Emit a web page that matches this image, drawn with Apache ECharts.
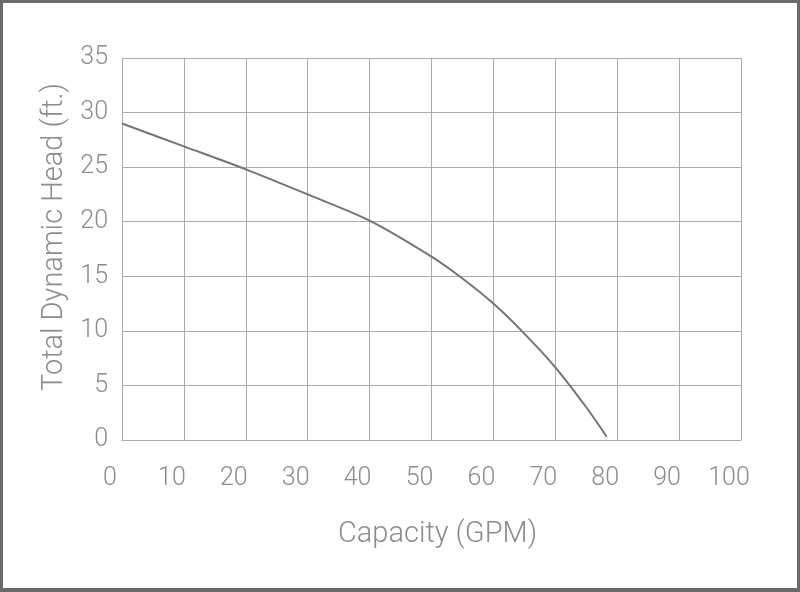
<!DOCTYPE html>
<html lang="en">
<head>
    <meta charset="UTF-8">
    <title>Pump curve</title>
    <script src="https://cdn.jsdelivr.net/npm/echarts@6/dist/echarts.min.js"></script>
    <style>
        html, body { margin: 0; padding: 0; background: #fff; }
        #container { width: 800px; height: 592px; position: absolute; left: 0; top: 0; }
        /* dark frame round the picture */
        #frame {
            position: absolute; left: 0; top: 0;
            width: 800px; height: 592px;
            box-sizing: border-box;
            border: 3px solid #6a6a6a;
            border-bottom-width: 4px;
            pointer-events: none;
        }
    </style>
</head>
<body>
<div id="container"></div>
<div id="frame"></div>
<script>
    // capacity (GPM) against total dynamic head (ft.)
    var capacity = [0, 10, 20, 30, 40, 50, 55, 60, 65, 70, 75, 78.3];
    var head     = [29, 26.9, 24.8, 22.5, 20.1, 16.8, 14.8, 12.5, 9.75, 6.66, 3.0, 0.3];
    var xTicks = [0, 100, 10];   // min, max, step
    var yTicks = [0, 35, 5];

    var textColor = '#8c8c8c';
    var gridColor = '#ababab';
    var fontName = 'Roboto';

    var points = capacity.map(function (c, i) { return [c, head[i]]; });

    var myChart = echarts.init(document.getElementById('container'));
    var option = {
        backgroundColor: '#fff',
        animation: false,
        grid: { left: 122, right: 59, top: 58, bottom: 152 },
        xAxis: {
            type: 'value',
            min: xTicks[0], max: xTicks[1], interval: xTicks[2],
            name: 'Capacity (GPM)',
            nameLocation: 'middle',
            nameGap: 80,
            nameTextStyle: { color: textColor, fontSize: 29, fontFamily: fontName, fontWeight: 300, padding: [0, 0, 0, 12] },
            axisLine: { show: true, lineStyle: { color: gridColor, width: 1 } },
            axisTick: { show: false },
            axisLabel: { color: textColor, fontSize: 25, fontFamily: fontName, fontWeight: 300, margin: 26, padding: [0, 24, 0, 0] },
            splitLine: { show: true, lineStyle: { color: gridColor, width: 1 } }
        },
        yAxis: {
            type: 'value',
            min: yTicks[0], max: yTicks[1], interval: yTicks[2],
            name: 'Total Dynamic Head (ft.)',
            nameLocation: 'middle',
            nameGap: 52,
            nameTextStyle: { color: textColor, fontSize: 29, fontFamily: fontName, fontWeight: 300, padding: [0, 0, 0, 24] },
            axisLine: { show: true, lineStyle: { color: gridColor, width: 1 } },
            axisTick: { show: false },
            axisLabel: { color: textColor, fontSize: 25, fontFamily: fontName, fontWeight: 300, margin: 14 },
            splitLine: { show: true, lineStyle: { color: gridColor, width: 1 } }
        },
        series: [{
            type: 'line',
            data: points,
            smooth: 0.3,
            showSymbol: false,
            lineStyle: { color: '#747474', width: 2 }
        }]
    };
    myChart.setOption(option);
</script>
</body>
</html>
